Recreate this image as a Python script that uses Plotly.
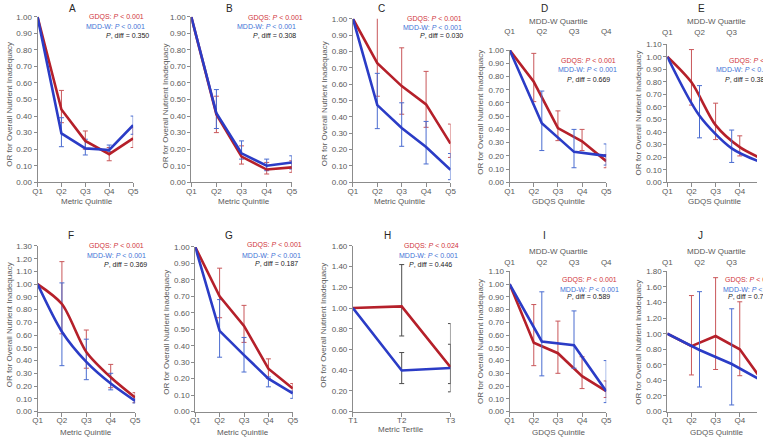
import plotly.graph_objects as go

W, H = 763, 441

QUINT = ["Q1", "Q2", "Q3", "Q4", "Q5"]
QUART = ["Q1", "Q2", "Q3", "Q4"]
TERT = ["T1", "T2", "T3"]

# ---------------- data (OR, lower CI, upper CI) ----------------
A_gdqs = [1.00, 0.44, 0.25, 0.17, 0.265]
A_gdqs_lo = [None, 0.36, 0.20, 0.13, 0.21]
A_gdqs_hi = [None, 0.555, 0.31, 0.21, 0.33]
A_mddw = [1.00, 0.295, 0.205, 0.195, 0.345]
A_mddw_lo = [None, 0.215, 0.165, 0.185, 0.29]
A_mddw_hi = [None, 0.39, 0.26, 0.225, 0.40]

B_gdqs = [1.00, 0.41, 0.155, 0.077, 0.09]
B_gdqs_lo = [None, 0.30, 0.11, 0.05, 0.06]
B_gdqs_hi = [None, 0.52, 0.22, 0.12, 0.13]
B_mddw = [1.00, 0.417, 0.175, 0.10, 0.12]
B_mddw_lo = [None, 0.325, 0.14, 0.07, 0.08]
B_mddw_hi = [None, 0.56, 0.25, 0.14, 0.16]

C_gdqs = [1.00, 0.728, 0.588, 0.476, 0.236]
C_gdqs_lo = [None, 0.526, 0.416, 0.336, 0.152]
C_gdqs_hi = [None, 1.01, 0.822, 0.678, 0.356]
C_mddw = [1.00, 0.472, 0.332, 0.216, 0.076]
C_mddw_lo = [None, 0.328, 0.22, 0.112, 0.016]
C_mddw_hi = [None, 0.666, 0.486, 0.372, 0.176]

D_gdqs = [1.00, 0.76, 0.41, 0.31, 0.16]
D_gdqs_lo = [None, 0.61, 0.315, 0.24, 0.11]
D_gdqs_hi = [None, 0.975, 0.54, 0.40, 0.21]
D_mddw = [1.00, 0.446, 0.23, 0.20]
D_mddw_lo = [None, 0.24, 0.11, 0.13]
D_mddw_hi = [None, 0.69, 0.40, 0.29]

E_gdqs = [1.00, 0.796, 0.455, 0.28, 0.18]
E_gdqs_lo = [None, 0.615, 0.34, 0.21, 0.12]
E_gdqs_hi = [None, 1.057, 0.63, 0.37, 0.25]
E_mddw = [1.00, 0.53, 0.27, 0.15]
E_mddw_lo = [None, 0.354, 0.158, 0.09]
E_mddw_hi = [None, 0.77, 0.416, 0.24]

F_gdqs = [1.00, 0.844, 0.468, 0.269, 0.11]
F_gdqs_lo = [None, 0.61, 0.34, 0.187, 0.07]
F_gdqs_hi = [None, 1.177, 0.64, 0.37, 0.148]
F_mddw = [1.00, 0.627, 0.39, 0.22, 0.084]
F_mddw_lo = [None, 0.36, 0.25, 0.17, 0.067]
F_mddw_hi = [None, 1.01, 0.568, 0.30, 0.10]

G_gdqs = [1.00, 0.70, 0.52, 0.26, 0.14]
G_gdqs_lo = [None, 0.57, 0.42, 0.20, 0.115]
G_gdqs_hi = [None, 0.871, 0.645, 0.32, 0.17]
G_mddw = [1.00, 0.49, 0.343, 0.20, 0.11]
G_mddw_lo = [None, 0.33, 0.24, 0.15, 0.08]
G_mddw_hi = [None, 0.68, 0.45, 0.21, 0.125]

H_gdqs = [1.00, 1.016, 0.428]
H_gdqs_lo = [None, 0.73, 0.19]
H_gdqs_hi = [None, 1.42, 0.85]
H_mddw = [1.00, 0.397, 0.42]
H_mddw_lo = [None, 0.27, 0.27]
H_mddw_hi = [None, 0.57, 0.65]

I_gdqs = [1.00, 0.54, 0.458, 0.278, 0.16]
I_gdqs_lo = [None, 0.36, 0.30, 0.18, 0.11]
I_gdqs_hi = [None, 0.84, 0.71, 0.43, 0.24]
I_mddw = [1.00, 0.55, 0.52, 0.16]
I_mddw_lo = [None, 0.28, 0.34, 0.07]
I_mddw_hi = [None, 0.94, 0.79, 0.40]

J_gdqs = [1.00, 0.84, 0.97, 0.80, 0.37]
J_gdqs_lo = [None, 0.47, 0.54, 0.46, 0.20]
J_gdqs_hi = [None, 1.49, 1.72, 1.41, 0.80]
J_mddw = [1.00, 0.79, 0.61, 0.38]
J_mddw_lo = [None, 0.315, 0.084, 0.15]
J_mddw_hi = [None, 1.54, 1.32, 0.95]

# p-value text
P_GDQS = ["0.001", "0.001", "0.001", "0.001", "0.001", "0.001", "0.001", "0.024", "0.001", "0.001"]
P_MDDW = ["0.001"] * 10
P_DIFF = ["0.350", "0.308", "0.030", "0.669", "0.381", "0.369", "0.187", "0.446", "0.589", "0.712"]

RED_LINE = "#B5202A"
BLUE_LINE = "#2B3CC6"
RED_ERR = "#C9575A"
BLUE_ERR = "#4A6CD0"
GRAY_ERR = "#4D4D4D"
RED_TXT = "#D0353A"
BLUE_TXT = "#3F73D6"
AXIS = "#8C8C8C"
TICKTXT = "#595959"
FONT = "Liberation Sans, Arial, sans-serif"

panels = [
    dict(L="A", x0=33, x1=130, ytop=13, ybot=182, ymax=1.0, dtick=0.1, cats=QUINT, xt="Metric Quintile",
         g=(A_gdqs, A_gdqs_lo, A_gdqs_hi), m=(A_mddw, A_mddw_lo, A_mddw_hi), top=False,
         tl=(68, 5), xtp=(83, 202), ytp=(5, 102),
         st=[(83, 13), (80, 23), (100, 32)]),
    dict(L="B", x0=189, x1=291, ytop=13, ybot=182, ymax=1.0, dtick=0.1, cats=QUINT, xt="Metric Quintile",
         g=(B_gdqs, B_gdqs_lo, B_gdqs_hi), m=(B_mddw, B_mddw_lo, B_mddw_hi), top=False,
         tl=(228, 5), xtp=(242, 202), ytp=(163, 104),
         st=[(245, 14), (233, 23), (250, 32)]),
    dict(L="C", x0=353, x1=452, ytop=15, ybot=182, ymax=1.0, dtick=0.1, cats=QUINT, xt="Metric Quintile",
         g=(C_gdqs, C_gdqs_lo, C_gdqs_hi), m=(C_mddw, C_mddw_lo, C_mddw_hi), top=False,
         tl=(382, 5), xtp=(401, 202), ytp=(325, 102),
         st=[(406, 15), (402, 24), (419, 32)]),
    dict(L="D", x0=512, x1=610, ytop=47, ybot=182, ymax=1.0, dtick=0.1, cats=QUINT, xt="GDQS Quintile",
         g=(D_gdqs, D_gdqs_lo, D_gdqs_hi), m=(D_mddw, D_mddw_lo, D_mddw_hi), top=True, ttl=12,
         tl=(547, 5), xtp=(562, 202), ytp=(483, 111), ttp=(562, 18),
         st=[(562, 58), (559, 67), (568, 77)]),
    dict(L="E", x0=672, x1=770, ytop=41, ybot=182, ymax=1.1, dtick=0.1, cats=QUINT, xt="GDQS Quintile",
         g=(E_gdqs, E_gdqs_lo, E_gdqs_hi), m=(E_mddw, E_mddw_lo, E_mddw_hi), top=True, ttl=5, spline=True,
         tl=(707, 5), xtp=(720, 202), ytp=(643, 111), ttp=(722, 18),
         st=[(733, 58), (719, 67), (728, 77)]),
    dict(L="F", x0=33, x1=132, ytop=247, ybot=416, ymax=1.3, dtick=0.1, cats=QUINT, xt="Metric Quintile",
         g=(F_gdqs, F_gdqs_lo, F_gdqs_hi), m=(F_mddw, F_mddw_lo, F_mddw_hi), top=False, spline=True,
         tl=(67, 236), xtp=(82, 437), ytp=(4, 327),
         st=[(83, 247), (81, 257), (98, 266)]),
    dict(L="G", x0=193, x1=292, ytop=248, ybot=416, ymax=1.0, dtick=0.1, cats=QUINT, xt="Metric Quintile",
         g=(G_gdqs, G_gdqs_lo, G_gdqs_hi), m=(G_mddw, G_mddw_lo, G_mddw_hi), top=False,
         tl=(227, 236), xtp=(241, 437), ytp=(164, 335),
         st=[(244, 246), (238, 257), (252, 265)]),
    dict(L="H", x0=353, x1=452, ytop=247, ybot=416, ymax=1.6, dtick=0.2, cats=TERT, xt="Metric Tertile",
         g=(H_gdqs, H_gdqs_lo, H_gdqs_hi), m=(H_mddw, H_mddw_lo, H_mddw_hi), top=False, gray=True,
         tl=(388, 236), xtp=(402, 434), ytp=(323, 328),
         st=[(403, 247), (398, 257), (408, 266)]),
    dict(L="I", x0=512, x1=610, ytop=273, ybot=416, ymax=1.1, dtick=0.1, cats=QUINT, xt="GDQS Quintile",
         g=(I_gdqs, I_gdqs_lo, I_gdqs_hi), m=(I_mddw, I_mddw_lo, I_mddw_hi), top=True, ttl=2,
         tl=(547, 236), xtp=(562, 437), ytp=(483, 345), ttp=(562, 253),
         st=[(563, 282), (561, 291), (568, 299)]),
    dict(L="J", x0=672, x1=770, ytop=273, ybot=416, ymax=1.8, dtick=0.2, cats=QUINT, xt="GDQS Quintile",
         g=(J_gdqs, J_gdqs_lo, J_gdqs_hi), m=(J_mddw, J_mddw_lo, J_mddw_hi), top=True, ttl=2,
         tl=(706, 236), xtp=(722, 437), ytp=(643, 345), ttp=(722, 253),
         st=[(729, 282), (726, 291), (732, 299)]),
]


def fx(p):
    return p / W


def fy(p):
    return 1 - p / H


def ann(x, y, text, size, color, xanchor="center", angle=0):
    return dict(x=fx(x), y=fy(y), xref="paper", yref="paper", text=text, showarrow=False,
                xanchor=xanchor, yanchor="middle", textangle=angle,
                font=dict(size=size, color=color, family=FONT))


fig = go.Figure()
layout = {}
annotations = []


def err_trace(cats, vals, lo, hi, color, xa, ya):
    xs, ys, up, dn = [], [], [], []
    for c, v, l, h in zip(cats, vals, lo, hi):
        if l is None:
            continue
        xs.append(c)
        ys.append(v)
        up.append(h - v)
        dn.append(v - l)
    return go.Scatter(x=xs, y=ys, mode="markers", xaxis=xa, yaxis=ya,
                      marker=dict(size=1, color="rgba(0,0,0,0)"),
                      error_y=dict(type="data", array=up, arrayminus=dn, color=color,
                                   thickness=1, width=2.5),
                      hoverinfo="skip", showlegend=False)


for k, p in enumerate(panels, start=1):
    xa = "x" if k == 1 else f"x{k}"
    ya = "y" if k == 1 else f"y{k}"
    xkey = "xaxis" if k == 1 else f"xaxis{k}"
    ykey = "yaxis" if k == 1 else f"yaxis{k}"
    right = min(p["x1"], W)
    frac = (right - p["x0"]) / (p["x1"] - p["x0"])
    n = len(p["cats"])
    layout[xkey] = dict(domain=[fx(p["x0"]), fx(right)], anchor=ya, type="category",
                        categoryorder="array", categoryarray=p["cats"],
                        range=[0, (n - 1) * frac], showline=True, linecolor=AXIS, linewidth=1,
                        ticks="outside", ticklen=4, tickcolor=AXIS, showgrid=False, zeroline=False,
                        ticklabelstandoff=-3,
                        tickfont=dict(size=8, color=TICKTXT, family=FONT), fixedrange=True)
    layout[ykey] = dict(domain=[fy(p["ybot"]), fy(p["ytop"])], anchor=xa,
                        range=[0, p["ymax"] + 1e-4], dtick=p["dtick"], tick0=0, tickformat=".2f",
                        showline=True, linecolor=AXIS, linewidth=1, ticks="outside", ticklen=3,
                        tickcolor=AXIS, showgrid=False, zeroline=False,
                        tickfont=dict(size=8, color=TICKTXT, family=FONT), fixedrange=True)
    shape = "spline" if p.get("spline") else "linear"
    if p["top"]:
        tk = 10 + k
        txa = f"x{tk}"
        layout[f"xaxis{tk}"] = dict(domain=[fx(p["x0"]), fx(right)], anchor=ya, overlaying=xa,
                                    side="top", type="category", categoryorder="array",
                                    categoryarray=QUART, range=[0, 3 * frac], showline=False,
                                    ticks="outside", ticklen=p["ttl"], tickcolor="rgba(0,0,0,0)",
                                    showgrid=False, zeroline=False,
                                    tickfont=dict(size=8, color=TICKTXT, family=FONT), fixedrange=True)
        mcats = QUART
        mxa = txa
        annotations.append(ann(p["ttp"][0], p["ttp"][1], "MDD-W Quartile", 8, TICKTXT))
    else:
        mcats = p["cats"]
        mxa = xa
    gv, gl, gh = p["g"]
    mv, ml, mh = p["m"]
    rc = GRAY_ERR if p.get("gray") else RED_ERR
    bc = GRAY_ERR if p.get("gray") else BLUE_ERR
    fig.add_trace(err_trace(p["cats"], gv, gl, gh, rc, xa, ya))
    fig.add_trace(err_trace(mcats, mv, ml, mh, bc, mxa, ya))
    fig.add_trace(go.Scatter(x=p["cats"], y=gv, mode="lines", xaxis=xa, yaxis=ya,
                             line=dict(color=RED_LINE, width=2.6, shape=shape, smoothing=0.8),
                             hoverinfo="skip", showlegend=False))
    fig.add_trace(go.Scatter(x=mcats, y=mv, mode="lines", xaxis=mxa, yaxis=ya,
                             line=dict(color=BLUE_LINE, width=2.6, shape=shape, smoothing=0.8),
                             hoverinfo="skip", showlegend=False))

    annotations.append(ann(p["tl"][0], p["tl"][1], p["L"], 10, "#262626"))
    annotations.append(ann(p["xtp"][0], p["xtp"][1], p["xt"], 8, TICKTXT))
    annotations.append(ann(p["ytp"][0], p["ytp"][1], "OR for Overall Nutrient Inadequacy", 8, TICKTXT, angle=-90))
    texts = [(f"GDQS: <i>P</i> &lt; {P_GDQS[k-1]}", RED_TXT),
             (f"MDD-W: <i>P</i> &lt; {P_MDDW[k-1]}", BLUE_TXT),
             (f"<i>P</i>, diff = {P_DIFF[k-1]}", "#1A1A1A")]
    for (t, c), (sx, sy) in zip(texts, p["st"]):
        annotations.append(ann(sx, sy, t, 7, c, xanchor="left"))

fig.update_layout(width=W, height=H, margin=dict(l=0, r=0, t=0, b=0),
                  paper_bgcolor="white", plot_bgcolor="white", showlegend=False,
                  annotations=annotations, **layout)

fig.write_html("out.html", config={"displayModeBar": False},
               post_script="document.body.style.margin='0px';document.body.style.overflow='hidden';")
